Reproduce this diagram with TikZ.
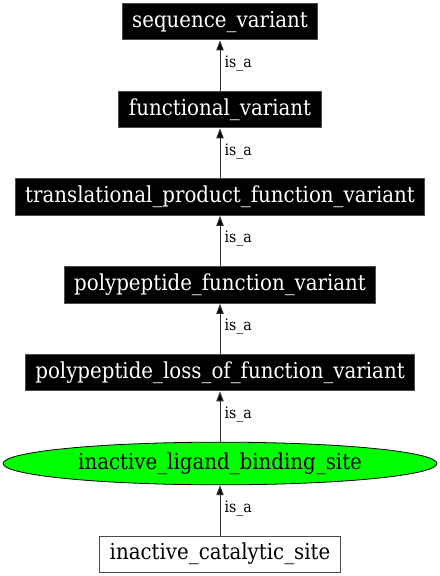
\documentclass[tikz,border=0pt]{standalone}
\usepackage{fontspec}
\setmainfont{DejaVu Serif Condensed}
\usetikzlibrary{shapes.geometric,arrows.meta}
\begin{document}
\begin{tikzpicture}[x=0.75pt,y=-0.75pt,
  nfont/.style={font=\fontsize{16.5pt}{18pt}\selectfont},
  blackbox/.style={rectangle,fill=black,draw=black!70,text=white,nfont,minimum height=27.5pt,inner xsep=7.5pt,inner ysep=0pt,line width=0.75pt},
  whitebox/.style={rectangle,fill=white,draw=black!70,text=black,nfont,minimum height=27pt,inner xsep=7.5pt,inner ysep=0pt,line width=0.75pt},
  greenell/.style={ellipse,fill=green,draw=black,nfont,minimum width=325.5pt,minimum height=32pt,inner sep=0pt,line width=0.6pt},
  isa/.style={draw=black!80,line width=0.75pt,-{Triangle[length=7.5pt,width=5.5pt,fill=black]}},
  lbl/.style={font=\fontsize{11.8pt}{13pt}\selectfont,anchor=west,inner sep=0pt,xshift=3pt}
]
\useasboundingbox (0,0) rectangle (440,576);
\node[blackbox] (sv) at (220,21.5) {sequence\_variant};
\node[blackbox] (fv) at (220,109.5) {functional\_variant};
\node[blackbox] (tp) at (220,197) {translational\_product\_function\_variant};
\node[blackbox] (pf) at (220,285) {polypeptide\_function\_variant};
\node[blackbox] (pl) at (220,372.5) {polypeptide\_loss\_of\_function\_variant};
\node[greenell] (il) at (220,463.5) {inactive\_ligand\_binding\_site};
\node[whitebox] (ic) at (220,554) {inactive\_catalytic\_site};
\draw[isa] (fv) -- node[lbl,yshift=1.5pt] {is\_a} (sv);
\draw[isa] (tp) -- node[lbl,yshift=1.5pt] {is\_a} (fv);
\draw[isa] (pf) -- node[lbl,yshift=1.5pt] {is\_a} (tp);
\draw[isa] (pl) -- node[lbl,yshift=1.5pt] {is\_a} (pf);
\draw[isa] (il) -- node[lbl,yshift=1.5pt] {is\_a} (pl);
\draw[isa] (ic) -- node[lbl,yshift=1.5pt] {is\_a} (il);
\end{tikzpicture}
\end{document}
